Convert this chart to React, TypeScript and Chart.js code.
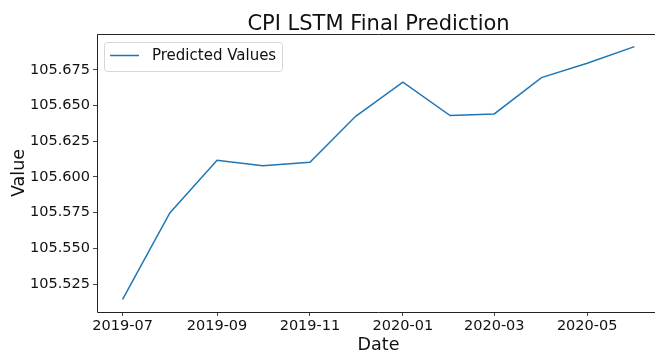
import React, { useEffect, useRef } from "react";
import { Chart, registerables } from "chart.js";

Chart.register(...registerables);

const chartTitle = "CPI LSTM Final Prediction";
const xTitle = "Date";
const yTitle = "Value";
const seriesLabel = "Predicted Values";

const months = [
  "2019-07", "2019-08", "2019-09", "2019-10", "2019-11", "2019-12",
  "2020-01", "2020-02", "2020-03", "2020-04", "2020-05", "2020-06",
];
const values = [
  105.5143, 105.5748, 105.6117, 105.6079, 105.6103, 105.6425,
  105.6664, 105.6430, 105.6442, 105.6696, 105.6797, 105.6913,
];
const xTickLabels = ["2019-07", "2019-09", "2019-11", "2020-01", "2020-03", "2020-05"];
const yTickValues = [105.525, 105.55, 105.575, 105.6, 105.625, 105.65, 105.675];

const FONT = "'DejaVu Sans', 'Liberation Sans', sans-serif";

function dayOf(ym: string): number {
  const [y, m] = ym.split("-").map(Number);
  return Date.UTC(y, m - 1, 1) / 86400000;
}

function labelOf(day: number): string {
  const d = new Date(day * 86400000);
  const m = d.getUTCMonth() + 1;
  return `${d.getUTCFullYear()}-${m < 10 ? "0" + m : m}`;
}

export default function App() {
  const ref = useRef<HTMLCanvasElement | null>(null);

  useEffect(() => {
    if (!ref.current) return;
    const xs = months.map(dayOf);
    const xSpan = xs[xs.length - 1] - xs[0];
    const xMin = xs[0] - 0.05 * xSpan;
    const xMax = xs[xs.length - 1] + 0.05 * xSpan;
    const vMin = Math.min(...values);
    const vMax = Math.max(...values);
    const vSpan = vMax - vMin;
    const yMin = vMin - 0.05 * vSpan;
    const yMax = vMax + 0.05 * vSpan;

    const decor = {
      id: "decor",
      afterDraw(chart: any) {
        const ctx = chart.ctx;
        const a = chart.chartArea;
        ctx.save();
        // spines
        ctx.strokeStyle = "#222";
        ctx.lineWidth = 1;
        ctx.beginPath();
        ctx.moveTo(a.left + 0.5, a.bottom + 0.5);
        ctx.lineTo(a.left + 0.5, a.top + 0.5);
        ctx.lineTo(a.right - 0.5, a.top + 0.5);
        ctx.lineTo(a.right - 0.5, a.bottom + 0.5);
        ctx.lineTo(a.left + 0.5, a.bottom + 0.5);
        ctx.stroke();
        // title
        ctx.fillStyle = "#111";
        ctx.font = `21px ${FONT}`;
        ctx.textAlign = "center";
        ctx.textBaseline = "alphabetic";
        const cx = (a.left + a.right) / 2;
        ctx.fillText(chartTitle, cx, 30);
        // axis titles
        ctx.font = `17.5px ${FONT}`;
        ctx.fillText(xTitle, cx, 350);
        ctx.save();
        ctx.translate(24, (a.top + a.bottom) / 2);
        ctx.rotate(-Math.PI / 2);
        ctx.fillText(yTitle, 0, 0);
        ctx.restore();
        // legend
        const lx = 104, ly = 42, lw = 178, lh = 29, r = 3;
        ctx.fillStyle = "rgba(255,255,255,0.8)";
        ctx.strokeStyle = "#d6d6d6";
        ctx.lineWidth = 1;
        ctx.beginPath();
        ctx.moveTo(lx + r + 0.5, ly + 0.5);
        ctx.arcTo(lx + lw + 0.5, ly + 0.5, lx + lw + 0.5, ly + lh + 0.5, r);
        ctx.arcTo(lx + lw + 0.5, ly + lh + 0.5, lx + 0.5, ly + lh + 0.5, r);
        ctx.arcTo(lx + 0.5, ly + lh + 0.5, lx + 0.5, ly + 0.5, r);
        ctx.arcTo(lx + 0.5, ly + 0.5, lx + lw + 0.5, ly + 0.5, r);
        ctx.closePath();
        ctx.fill();
        ctx.stroke();
        const ds = chart.data.datasets[0];
        ctx.strokeStyle = ds.borderColor;
        ctx.lineWidth = 1.5;
        ctx.beginPath();
        ctx.moveTo(110, 55.5);
        ctx.lineTo(139, 55.5);
        ctx.stroke();
        ctx.fillStyle = "#111";
        ctx.font = `15px ${FONT}`;
        ctx.textAlign = "left";
        ctx.textBaseline = "middle";
        ctx.fillText(ds.label, 152, 56);
        ctx.restore();
      },
    };

    const chart = new Chart(ref.current, {
      type: "line",
      data: {
        datasets: [
          {
            label: seriesLabel,
            data: xs.map((x, i) => ({ x, y: values[i] })),
            borderColor: "#1f77b4",
            borderWidth: 1.5,
            pointRadius: 0,
            fill: false,
            tension: 0,
          },
        ],
      },
      options: {
        responsive: false,
        animation: false,
        layout: { padding: { top: 34, right: 0, left: 0, bottom: 0 } },
        plugins: {
          legend: { display: false },
          title: { display: false },
          tooltip: { enabled: false },
        },
        scales: {
          x: {
            type: "linear",
            min: xMin,
            max: xMax,
            afterFit(scale: any) {
              scale.height = 42;
            },
            afterBuildTicks(scale: any) {
              scale.ticks = xTickLabels.map((l) => ({ value: dayOf(l) }));
            },
            border: { display: false },
            grid: {
              drawOnChartArea: false,
              drawTicks: true,
              tickLength: 4,
              color: "#444",
            },
            ticks: {
              padding: 2,
              maxRotation: 0,
              autoSkip: false,
              color: "#111",
              font: { family: FONT, size: 14.5 },
              callback: (v: any) => labelOf(Number(v)),
            },
          },
          y: {
            type: "linear",
            min: yMin,
            max: yMax,
            afterFit(scale: any) {
              scale.width = 97;
            },
            afterBuildTicks(scale: any) {
              scale.ticks = yTickValues.map((v) => ({ value: v }));
            },
            border: { display: false },
            grid: {
              drawOnChartArea: false,
              drawTicks: true,
              tickLength: 4,
              color: "#444",
            },
            ticks: {
              padding: 3,
              autoSkip: false,
              color: "#111",
              font: { family: FONT, size: 14.5 },
              callback: (v: any) => Number(v).toFixed(3),
            },
          },
        },
      },
      plugins: [decor],
    });
    return () => chart.destroy();
  }, []);

  return (
    <div
      style={{
        position: "absolute",
        left: 0,
        top: 0,
        width: 655,
        height: 354,
        overflow: "hidden",
        background: "#fff",
      }}
    >
      <canvas ref={ref} width={660} height={354} style={{ display: "block" }} />
    </div>
  );
}
